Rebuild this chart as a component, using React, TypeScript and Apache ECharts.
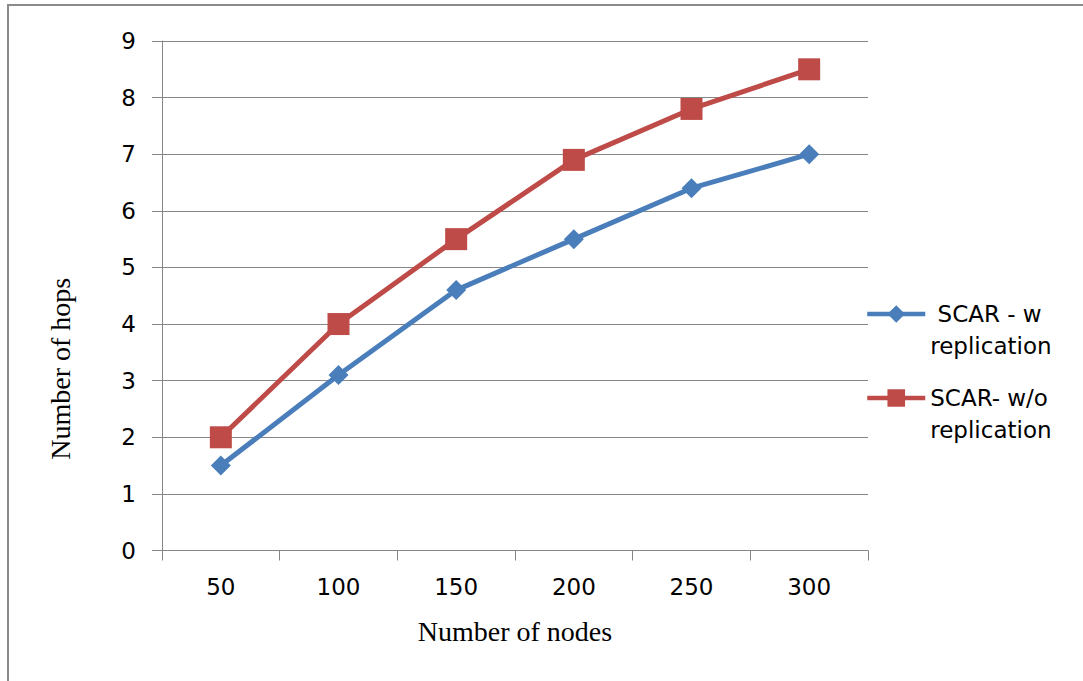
import React, { useEffect, useRef } from "react";
import * as echarts from "echarts";

const categories = ["50", "100", "150", "200", "250", "300"];
const withReplication = [1.5, 3.1, 4.6, 5.5, 6.4, 7.0];
const withoutReplication = [2.0, 4.0, 5.5, 6.9, 7.8, 8.5];
const seriesNames = ["SCAR - w replication", "SCAR- w/o replication"];
const legendLabels: Record<string, string> = {
  "SCAR - w replication": "\n SCAR - w\nreplication",
  "SCAR- w/o replication": "\nSCAR- w/o\nreplication",
};

export default function App() {
  const ref = useRef<HTMLDivElement>(null);
  useEffect(() => {
    if (!ref.current) return;
    const chart = echarts.init(ref.current, undefined, { renderer: "svg" });
    const axisGray = "#868686";
    const legendText = {
      fontFamily: "DejaVu Sans",
      fontSize: 23,
      color: "#000",
      lineHeight: 32,
    };
    const legendBase = {
      orient: "vertical",
      left: 865,
      padding: 0,
      itemWidth: 58,
      itemHeight: 22,
      itemGap: 6,
      formatter: (n: string) => legendLabels[n],
      textStyle: legendText,
      lineStyle: { width: 4.5 },
    };
    chart.setOption({
      animation: false,
      backgroundColor: "#fff",
      grid: { left: 162, top: 41, right: 215, bottom: 130.5 },
      legend: [
        { ...legendBase, data: [seriesNames[0]], top: 266 },
        { ...legendBase, data: [seriesNames[1]], top: 350 },
      ],
      xAxis: {
        type: "category",
        data: categories,
        boundaryGap: true,
        name: "Number of nodes",
        nameLocation: "middle",
        nameGap: 67,
        nameTextStyle: { fontFamily: "Liberation Serif", fontSize: 28, color: "#000" },
        axisLine: { lineStyle: { color: axisGray, width: 1 } },
        axisTick: { show: true, length: 10, lineStyle: { color: axisGray } },
        axisLabel: { margin: 25, fontFamily: "DejaVu Sans", fontSize: 23, color: "#000" },
        splitLine: { show: false },
      },
      yAxis: {
        type: "value",
        min: 0,
        max: 9,
        interval: 1,
        name: "Number of hops",
        nameLocation: "middle",
        nameGap: 88,
        nameTextStyle: {
          fontFamily: "Liberation Serif",
          fontSize: 28,
          color: "#000",
          padding: [0, 146, 0, 0],
        },
        axisLine: { show: true, lineStyle: { color: axisGray, width: 1 } },
        axisTick: { show: true, length: 10, lineStyle: { color: axisGray } },
        axisLabel: { margin: 26, fontFamily: "DejaVu Sans", fontSize: 23, color: "#000" },
        splitLine: { show: true, lineStyle: { color: axisGray, width: 1 } },
      },
      graphic: [
        { type: "line", shape: { x1: 8, y1: 5, x2: 8, y2: 681 }, style: { stroke: "#8a8a8a", lineWidth: 2 } },
        { type: "line", shape: { x1: 7, y1: 5, x2: 1083, y2: 5 }, style: { stroke: "#8a8a8a", lineWidth: 2 } },
      ],
      series: [
        {
          name: seriesNames[0],
          type: "line",
          data: withReplication,
          symbol: "diamond",
          symbolSize: 20,
          lineStyle: { color: "#4A7EBB", width: 5 },
          itemStyle: { color: "#4A7EBB" },
        },
        {
          name: seriesNames[1],
          type: "line",
          data: withoutReplication,
          symbol: "rect",
          symbolSize: 22,
          lineStyle: { color: "#BE4B48", width: 5 },
          itemStyle: { color: "#BE4B48" },
        },
      ],
    });
    return () => chart.dispose();
  }, []);
  return (
    <div
      ref={ref}
      style={{ position: "absolute", left: 0, top: 0, width: 1083, height: 681 }}
    />
  );
}
